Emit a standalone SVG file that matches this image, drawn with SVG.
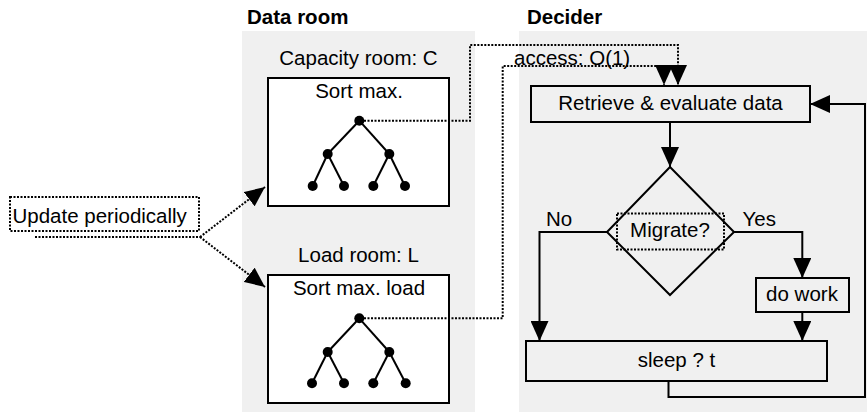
<svg xmlns="http://www.w3.org/2000/svg" width="867" height="412" viewBox="0 0 867 412">
<style>
text{font-family:"Liberation Sans",Arial,sans-serif;font-size:20.5px;fill:#000}
.h{font-weight:bold}
.c{text-anchor:middle}
.panel{fill:#f0f0f0;stroke:none}
.box{fill:#fff;stroke:#000;stroke-width:2}
.fbox{fill:none;stroke:#000;stroke-width:2}
.dot{fill:none;stroke:#000;stroke-width:2;stroke-dasharray:2 1.5}
.ln{fill:none;stroke:#000;stroke-width:2}
.tree line{stroke:#000;stroke-width:2}
.tree circle{fill:#000}
</style>
<defs>
<marker id="ah" viewBox="0 0 20 18" refX="20" refY="9" markerWidth="20" markerHeight="18" markerUnits="userSpaceOnUse" orient="auto">
<path d="M0,0 L20,9 L0,18 Z" fill="#000"/>
</marker>
</defs>

<g id="data-room">
<rect class="panel" x="242" y="31" width="233" height="381"/>
<text class="h" x="247" y="24">Data room</text>
</g>
<g id="decider">
<rect class="panel" x="519" y="31" width="348" height="381"/>
<text class="h" x="527" y="24">Decider</text>
</g>

<g id="update">
<rect class="dot" x="10" y="197" width="189" height="34"/>
<text x="12.5" y="222.5">Update periodically</text>
</g>

<g id="capacity-room">
<text class="c" x="358.5" y="65">Capacity room: C</text>
<rect class="box" x="268" y="78" width="181" height="128"/>
<text class="c" x="359" y="98">Sort max.</text>
<g class="tree">
<line x1="359.3" y1="120.7" x2="327.7" y2="154"/>
<line x1="359.3" y1="120.7" x2="389.3" y2="154"/>
<line x1="327.7" y1="154" x2="312.7" y2="186"/>
<line x1="327.7" y1="154" x2="344" y2="186"/>
<line x1="389.3" y1="154" x2="373.3" y2="186"/>
<line x1="389.3" y1="154" x2="405" y2="186"/>
<circle cx="359.3" cy="120.7" r="5"/>
<circle cx="327.7" cy="154" r="5"/>
<circle cx="389.3" cy="154" r="5"/>
<circle cx="312.7" cy="186" r="5"/>
<circle cx="344" cy="186" r="5"/>
<circle cx="373.3" cy="186" r="5"/>
<circle cx="405" cy="186" r="5"/>
</g>
</g>

<g id="load-room">
<text class="c" x="358.5" y="261.5">Load room: L</text>
<rect class="box" x="268" y="275" width="181" height="128"/>
<text class="c" x="359" y="295">Sort max. load</text>
<g class="tree">
<line x1="359.3" y1="318.3" x2="327.7" y2="352"/>
<line x1="359.3" y1="318.3" x2="389.3" y2="352"/>
<line x1="327.7" y1="352" x2="312" y2="383.3"/>
<line x1="327.7" y1="352" x2="344" y2="383.3"/>
<line x1="389.3" y1="352" x2="373.3" y2="383.3"/>
<line x1="389.3" y1="352" x2="405.7" y2="383.3"/>
<circle cx="359.3" cy="318.3" r="5"/>
<circle cx="327.7" cy="352" r="5"/>
<circle cx="389.3" cy="352" r="5"/>
<circle cx="312" cy="383.3" r="5"/>
<circle cx="344" cy="383.3" r="5"/>
<circle cx="373.3" cy="383.3" r="5"/>
<circle cx="405.7" cy="383.3" r="5"/>
</g>
</g>

<g id="retrieve">
<rect class="fbox" x="531" y="86" width="279" height="36"/>
<text class="c" x="670.5" y="110">Retrieve &amp; evaluate data</text>
</g>
<g id="migrate">
<polygon class="ln" points="670,167 734,232 670,295 607,232"/>
<rect class="dot" x="617" y="213.5" width="107" height="36"/>
<text class="c" x="670" y="237">Migrate?</text>
</g>
<g id="do-work">
<rect class="fbox" x="756" y="278" width="93" height="34"/>
<text class="c" x="802" y="301">do work</text>
</g>
<g id="sleep">
<rect class="fbox" x="526" y="341" width="301" height="40"/>
<text class="c" x="676.5" y="367">sleep ? t</text>
</g>

<g id="connectors">
<polyline class="dot" points="35,237 200,237"/>
<line class="dot" x1="200" y1="237" x2="265" y2="187" marker-end="url(#ah)"/>
<line class="dot" x1="200" y1="237" x2="265" y2="287" marker-end="url(#ah)"/>
<polyline class="dot" points="364,120.7 470,120.7 470,45 678,45 678,85" marker-end="url(#ah)"/>
<polyline class="dot" points="364,318.3 502.7,318.3 502.7,66 664,66 664,85" marker-end="url(#ah)"/>
<text x="514" y="65">access: O(1)</text>
<line class="ln" x1="670" y1="122" x2="670" y2="167" marker-end="url(#ah)"/>
<polyline class="ln" points="607,232 539.5,232 539.5,341" marker-end="url(#ah)"/>
<polyline class="ln" points="734,232 802.3,232 802.3,278" marker-end="url(#ah)"/>
<line class="ln" x1="802.3" y1="312" x2="802.3" y2="341" marker-end="url(#ah)"/>
<polyline class="ln" points="668.5,380 668.5,397 865,397 865,104 810,104" marker-end="url(#ah)"/>
<text x="546" y="226">No</text>
<text x="742.5" y="226">Yes</text>
</g>
</svg>
